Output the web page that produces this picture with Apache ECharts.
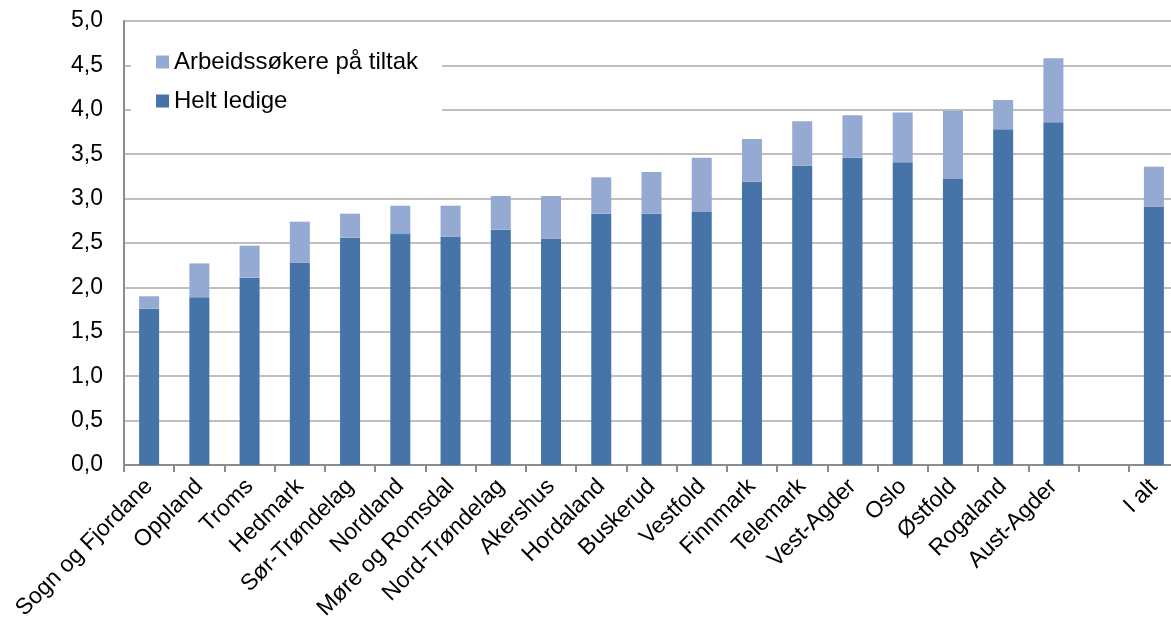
<!DOCTYPE html>
<html>
<head>
<meta charset="utf-8">
<script src="https://cdn.jsdelivr.net/npm/echarts@6/dist/echarts.min.js"></script>
<style>
html,body{margin:0;padding:0;background:#fff;}
#chart{width:1171px;height:627px;}
</style>
</head>
<body>
<div id="chart"></div>
<script>
const categories = ['Sogn og Fjordane','Oppland','Troms','Hedmark','Sør-Trøndelag','Nordland','Møre og Romsdal','Nord-Trøndelag','Akershus','Hordaland','Buskerud','Vestfold','Finnmark','Telemark','Vest-Agder','Oslo','Østfold','Rogaland','Aust-Agder','','I alt'];
const heltLedige = [1.76,1.89,2.11,2.28,2.56,2.60,2.57,2.65,2.55,2.83,2.83,2.85,3.19,3.37,3.46,3.41,3.22,3.78,3.86,null,2.91];
const tiltak = [0.14,0.38,0.36,0.46,0.27,0.32,0.35,0.38,0.48,0.41,0.47,0.61,0.48,0.50,0.48,0.56,0.77,0.33,0.72,null,0.45];
const yTicks = [0,0.5,1,1.5,2,2.5,3,3.5,4,4.5,5];

const FONT = '"Liberation Sans", Arial, sans-serif';
const chart = echarts.init(document.getElementById('chart'), null, {renderer:'canvas'});
chart.setOption({
  animation:false,
  backgroundColor:'#ffffff',
  textStyle:{fontFamily:FONT},
  grid:{left:124,width:1055,top:21,bottom:162,containLabel:false,outerBoundsMode:'none'},
  legend:{
    orient:'vertical',
    left:131, top:40,
    padding:[9,24,10,25],
    backgroundColor:'#ffffff',
    itemWidth:13,itemHeight:13,itemGap:13,
    icon:'rect',
    data:['Arbeidssøkere på tiltak','Helt ledige'],
    textStyle:{fontSize:24,color:'#000',fontFamily:FONT,lineHeight:26}
  },
  xAxis:{
    type:'category',
    data:categories,
    boundaryGap:true,
    axisLine:{lineStyle:{color:'#8c8c8c',width:2}},
    axisTick:{show:true,alignWithLabel:false,length:7,interval:0,lineStyle:{color:'#8c8c8c',width:2}},
    axisLabel:{interval:0,rotate:45,fontSize:23,color:'#000',fontFamily:FONT,margin:18},
    splitLine:{show:false}
  },
  yAxis:{
    type:'value',
    min:yTicks[0],max:yTicks[yTicks.length-1],interval:0.5,
    axisLine:{show:true,lineStyle:{color:'#8c8c8c',width:2}},
    axisTick:{show:false},
    axisLabel:{fontSize:23,color:'#000',fontFamily:FONT,margin:21,
      formatter:v=>v.toFixed(1).replace('.',',')},
    splitLine:{lineStyle:{color:'#bfbfbf',width:2}}
  },
  series:[
    {name:'Helt ledige',type:'bar',stack:'a',data:heltLedige,barWidth:20,
      itemStyle:{color:'#4674A8'}},
    {name:'Arbeidssøkere på tiltak',type:'bar',stack:'a',data:tiltak,barWidth:20,
      itemStyle:{color:'#95AAD2'}}
  ]
});
</script>
</body>
</html>
